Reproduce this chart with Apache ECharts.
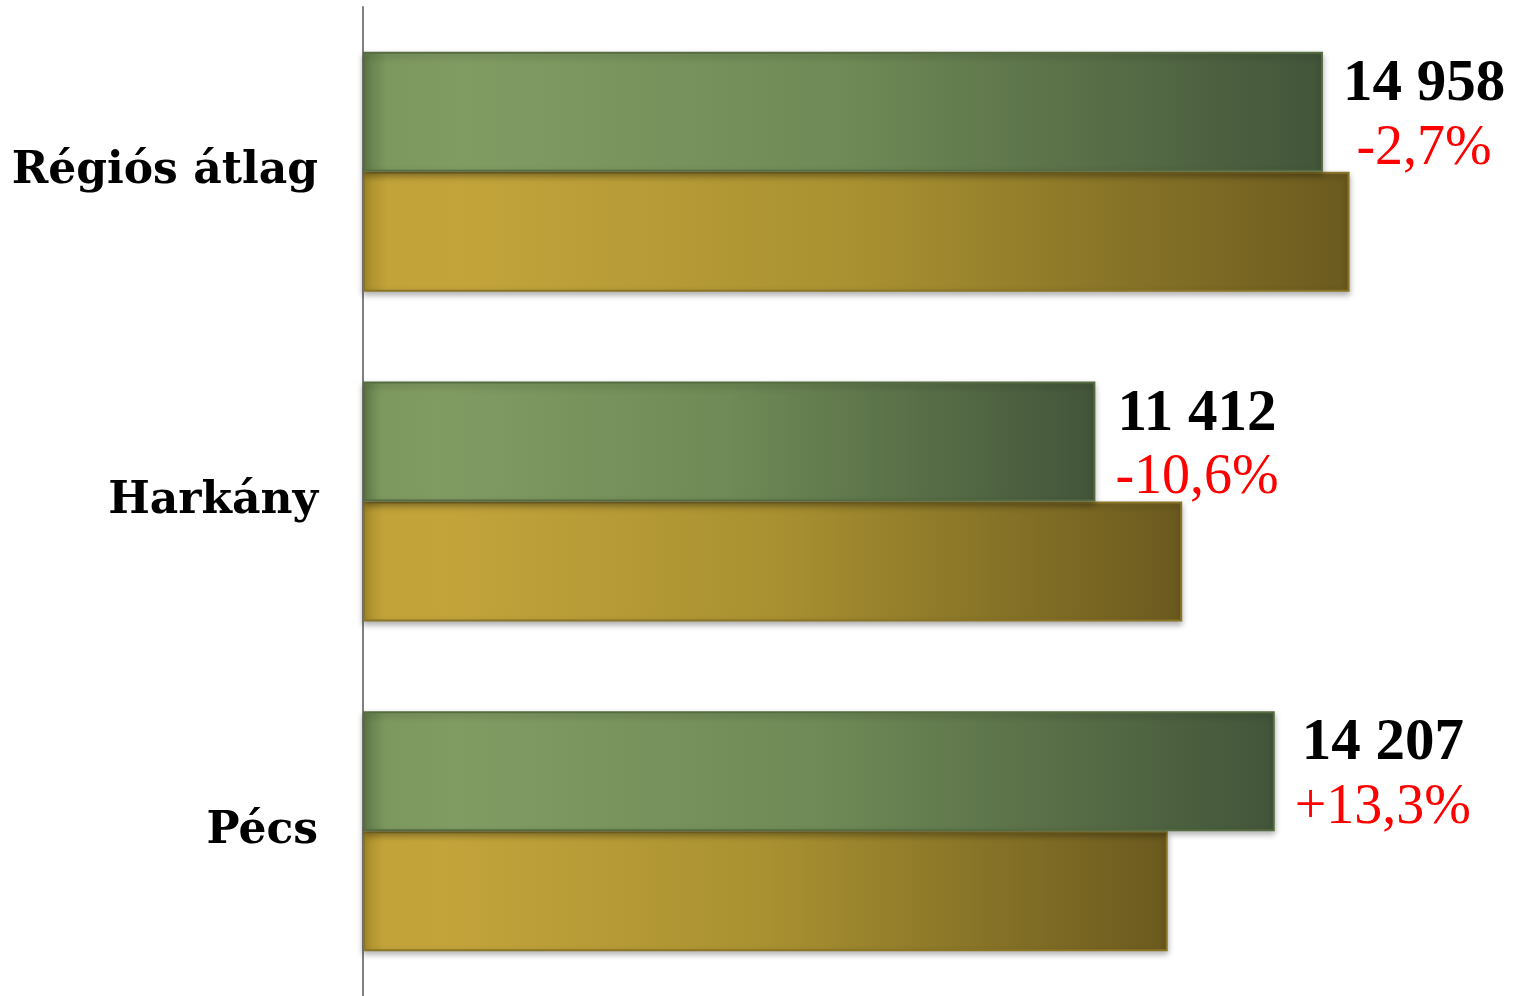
<!DOCTYPE html>
<html>
<head>
<meta charset="utf-8">
<script src="https://cdn.jsdelivr.net/npm/echarts@6/dist/echarts.min.js"></script>
<style>
html,body{margin:0;padding:0;background:#fff;}
#chart{width:1517px;height:996px;}
</style>
</head>
<body>
<div id="chart"></div>
<script>
var categories = ['Régiós átlag', 'Harkány', 'Pécs'];
var currentValues = [14958, 11412, 14207];
var previousValues = [15373, 12765, 12539];
var changeLabels = ['-2,7%', '-10,6%', '+13,3%'];

function fmt(v) {
  return String(v).replace(/\B(?=(\d{3})+(?!\d))/g, ' ');
}

var greenGrad = new echarts.graphic.LinearGradient(0, 0, 1, 0, [
  {offset: 0, color: '#5f7a48'},
  {offset: 0.025, color: '#7d985f'},
  {offset: 0.1, color: '#819c63'},
  {offset: 0.5, color: '#6f8a56'},
  {offset: 1, color: '#43553a'}
]);
var goldGrad = new echarts.graphic.LinearGradient(0, 0, 1, 0, [
  {offset: 0, color: '#a88c2a'},
  {offset: 0.025, color: '#c2a33a'},
  {offset: 0.1, color: '#c3a43b'},
  {offset: 0.5, color: '#a99131'},
  {offset: 1, color: '#6b5a1f'}
]);

var chart = echarts.init(document.getElementById('chart'), null, {renderer: 'canvas'});
chart.setOption({
  animation: false,
  backgroundColor: '#ffffff',
  grid: {left: 363, top: 7, width: 1091, height: 995, containLabel: false},
  xAxis: {
    type: 'value', min: 0, max: 17000,
    show: false
  },
  yAxis: {
    type: 'category',
    data: categories,
    inverse: true,
    axisLine: {show: true, lineStyle: {color: '#808080', width: 2}},
    axisTick: {show: false},
    splitLine: {show: false},
    axisLabel: {
      margin: 45,
      color: '#000',
      fontFamily: 'DejaVu Serif',
      fontWeight: 'bold',
      fontSize: 44,
      padding: [6, 0, 0, 0]
    }
  },
  series: [
    {
      name: 'current',
      type: 'bar',
      data: currentValues,
      barWidth: 120,
      barGap: '0%',
      itemStyle: {
        color: greenGrad,
        borderColor: '#556b40',
        borderWidth: 2,
        shadowBlur: 6,
        shadowColor: 'rgba(0,0,0,0.3)',
        shadowOffsetY: 3
      },
      label: {
        show: true,
        position: 'right',
        distance: 20,
        offset: [0, 5],
        formatter: function (p) {
          return '{a|' + fmt(p.value) + '}\n{b|' + changeLabels[p.dataIndex] + '}';
        },
        rich: {
          a: {fontFamily: 'Liberation Serif', fontWeight: 'bold', fontSize: 59, color: '#000', align: 'center', lineHeight: 64},
          b: {fontFamily: 'Liberation Serif', fontWeight: 'normal', fontSize: 56, color: '#ff0000', align: 'center', lineHeight: 64}
        }
      },
      z: 3
    },
    {
      name: 'previous',
      type: 'bar',
      data: previousValues,
      barWidth: 120,
      barGap: '0%',
      itemStyle: {
        color: goldGrad,
        borderColor: '#8a7526',
        borderWidth: 2,
        shadowBlur: 6,
        shadowColor: 'rgba(0,0,0,0.3)',
        shadowOffsetY: 3
      },
      z: 2
    }
  ]
});
</script>
</body>
</html>
